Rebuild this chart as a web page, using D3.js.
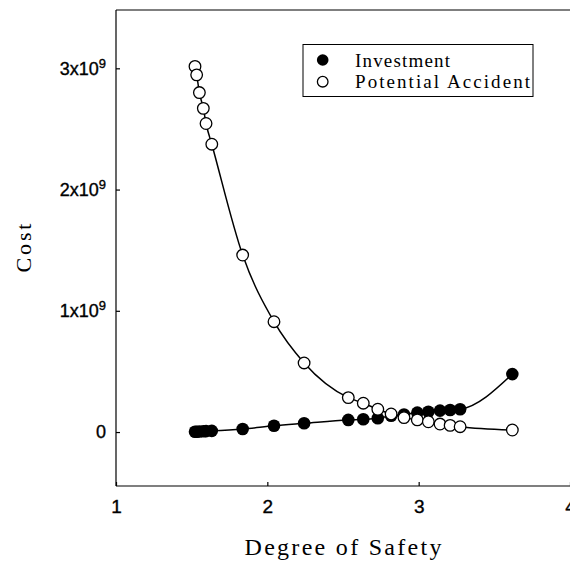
<!DOCTYPE html>
<html>
<head>
<meta charset="utf-8">
<script src="https://cdn.jsdelivr.net/npm/d3@7"></script>
<style>
  body { margin: 0; background: #fff; }
  svg { display: block; }
</style>
</head>
<body>
<div id="chart"></div>
<script>
// Data, cost in units of 1e9
const degree = [1.522, 1.533, 1.551, 1.577, 1.595, 1.633, 1.837, 2.044, 2.243, 2.535,
                2.634, 2.730, 2.818, 2.903, 2.991, 3.064, 3.141, 3.208, 3.274, 3.619];
const investment = [0.002, 0.003, 0.004, 0.006, 0.008, 0.010, 0.025, 0.052, 0.072, 0.100,
                    0.105, 0.114, 0.135, 0.145, 0.160, 0.168, 0.177, 0.182, 0.188, 0.478];
const accident = [3.016, 2.946, 2.800, 2.670, 2.545, 2.374, 1.460, 0.910, 0.570, 0.284,
                  0.238, 0.188, 0.149, 0.119, 0.100, 0.085, 0.066, 0.055, 0.044, 0.017];
const xTicks = [1, 2, 3, 4];
const yTicks = [0, 1, 2, 3];
const seriesNames = ["Investment", "Potential Accident"];

const W = 570, H = 562;
const plot = { left: 116, right: 570, top: 10, bottom: 486 };

const svg = d3.select("#chart").append("svg")
    .attr("width", W)
    .attr("height", H);

svg.append("rect").attr("width", W).attr("height", H).attr("fill", "#fff");

const x = d3.scaleLinear().domain([1, 4]).range([plot.left, plot.right]);
const y = d3.scaleLinear().domain([-0.445, 3.481]).range([plot.bottom, plot.top]);

const sansFont = "'Liberation Sans', Arial, sans-serif";
const serifFont = "'Liberation Serif', 'Times New Roman', serif";

// Frame
const frame = svg.append("g").attr("stroke", "#000").attr("stroke-width", 1.2).attr("fill", "none");
frame.append("line").attr("x1", plot.left).attr("x2", plot.left).attr("y1", plot.top).attr("y2", plot.bottom);
frame.append("line").attr("x1", plot.left).attr("x2", plot.right).attr("y1", plot.top).attr("y2", plot.top);
frame.append("line").attr("x1", plot.left).attr("x2", plot.right).attr("y1", plot.bottom).attr("y2", plot.bottom);

// Y axis (inward ticks)
const yAxis = svg.append("g")
    .attr("transform", `translate(${plot.left},0)`)
    .call(d3.axisLeft(y).tickValues(yTicks).tickSizeInner(-4).tickSizeOuter(0).tickPadding(10));
yAxis.select(".domain").remove();
yAxis.selectAll("line").attr("stroke", "#000").attr("stroke-width", 1.2);
yAxis.selectAll("text")
    .attr("font-family", sansFont)
    .attr("font-size", 18)
    .attr("fill", "#000")
    .attr("stroke", "#000")
    .attr("stroke-width", 0.35)
    .each(function(d) {
      const t = d3.select(this).text("");
      if (d === 0) { t.text("0"); return; }
      t.append("tspan").text(d + "x10");
      t.append("tspan").attr("font-size", 13).attr("dy", -7).text("9");
    });

// X axis (inward ticks)
const xAxis = svg.append("g")
    .attr("transform", `translate(0,${plot.bottom})`)
    .call(d3.axisBottom(x).tickValues(xTicks).tickFormat(d3.format("d")).tickSizeInner(-4).tickSizeOuter(0).tickPadding(14));
xAxis.select(".domain").remove();
xAxis.selectAll("line").attr("stroke", "#000").attr("stroke-width", 1.2);
xAxis.selectAll("text")
    .attr("font-family", sansFont)
    .attr("font-size", 19)
    .attr("fill", "#000")
    .attr("stroke", "#000")
    .attr("stroke-width", 0.35);

// Axis titles
svg.append("text")
    .attr("x", (plot.left + plot.right) / 2)
    .attr("y", 555)
    .attr("text-anchor", "middle")
    .attr("font-family", serifFont)
    .attr("font-size", 24)
    .attr("textLength", 197)
    .attr("lengthAdjust", "spacing")
    .text("Degree of Safety");

svg.append("text")
    .attr("transform", `translate(31,${(plot.top + plot.bottom) / 2}) rotate(-90)`)
    .attr("text-anchor", "middle")
    .attr("font-family", serifFont)
    .attr("font-size", 22)
    .attr("textLength", 49)
    .attr("lengthAdjust", "spacing")
    .text("Cost");

// Lines
const line = d3.line().curve(d3.curveMonotoneX);
const invPts = degree.map((d, i) => [x(d), y(investment[i])]);
const accPts = degree.map((d, i) => [x(d), y(accident[i])]);

svg.append("path").attr("d", line(invPts)).attr("fill", "none").attr("stroke", "#000").attr("stroke-width", 1.5);
svg.append("path").attr("d", line(accPts)).attr("fill", "none").attr("stroke", "#000").attr("stroke-width", 1.5);

// Markers
svg.append("g").selectAll("circle")
    .data(invPts)
    .join("circle")
    .attr("cx", d => d[0])
    .attr("cy", d => d[1])
    .attr("r", 6.3)
    .attr("fill", "#000");

svg.append("g").selectAll("circle")
    .data(accPts)
    .join("circle")
    .attr("cx", d => d[0])
    .attr("cy", d => d[1])
    .attr("r", 5.8)
    .attr("fill", "#fff")
    .attr("stroke", "#000")
    .attr("stroke-width", 1.3);

// Legend
const legend = svg.append("g");
legend.append("rect")
    .attr("x", 303).attr("y", 44.5)
    .attr("width", 230).attr("height", 52)
    .attr("fill", "#fff").attr("stroke", "#000").attr("stroke-width", 1);

legend.append("circle").attr("cx", 322.7).attr("cy", 60).attr("r", 5.8).attr("fill", "#000");
legend.append("circle").attr("cx", 322.7).attr("cy", 81.7).attr("r", 5.3)
    .attr("fill", "#fff").attr("stroke", "#000").attr("stroke-width", 1.3);

const legendWidths = [95, 175];
seriesNames.forEach((name, i) => {
  legend.append("text")
      .attr("x", 355)
      .attr("y", 66.5 + i * 21.7)
      .attr("font-family", serifFont)
      .attr("font-size", 19)
      .attr("textLength", legendWidths[i])
      .attr("lengthAdjust", "spacing")
      .text(name);
});
</script>
</body>
</html>
